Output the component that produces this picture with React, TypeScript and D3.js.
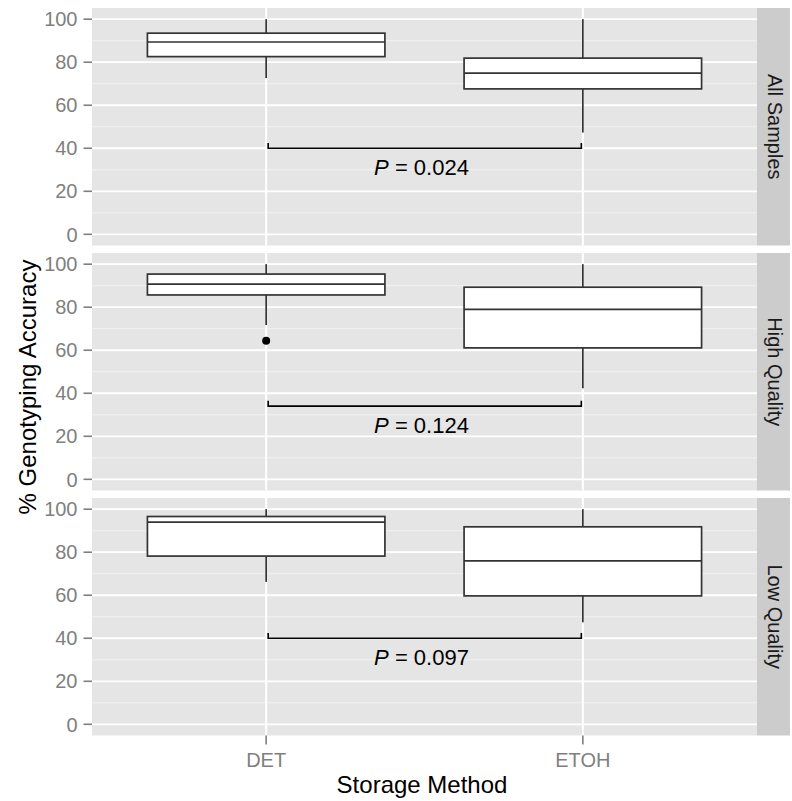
import React from "react";
import * as d3 from "d3";

// Facets, storage methods and box statistics (lower whisker, Q1, median, Q3, upper whisker)
const facets = ["All Samples", "High Quality", "Low Quality"];
const methods = ["DET", "ETOH"];
const detStats = [
  [72.6, 82.6, 89.4, 93.5, 100],
  [71.7, 85.7, 90.7, 95.4, 100],
  [66.2, 78.2, 94.0, 96.6, 100],
];
const etohStats = [
  [47.3, 67.6, 74.9, 81.9, 100],
  [42.3, 61.1, 79.0, 89.3, 100],
  [47.4, 59.7, 76.0, 91.8, 100],
];
// Outliers: facet index, method, value
const outlierFacet = [1];
const outlierMethod = ["DET"];
const outlierValue = [64.4];

// Significance brackets
const pValues = ["0.024", "0.124", "0.097"];
const bracketY = [40, 34, 40];
const bracketTick = 2.5;
const labelDrop = 12.6;

const yTicks = [0, 20, 40, 60, 80, 100];
const yMinor = [10, 30, 50, 70, 90];

const W = 792;
const H = 801;
const panelLeft = 92;
const panelRight = 757;
const stripRight = 790;
const panelTop0 = 8;
const panelH = 237.5;
const panelGap = 7.5;

const FONT = "'Liberation Sans', Arial, Helvetica, sans-serif";
const GREY_TEXT = "#7f7f7f";

export default function App() {
  const x = d3
    .scalePoint<string>()
    .domain(methods)
    .range([panelLeft, panelRight])
    .padding(0.55);
  const step = x.step();
  const boxW = step * 0.75;
  const stats = [detStats, etohStats];

  const panels = facets.map((facet, fi) => {
    const top = panelTop0 + fi * (panelH + panelGap);
    const y = d3.scaleLinear().domain([-5.2, 105.2]).range([top + panelH, top]);
    return (
      <g key={facet}>
        <rect x={panelLeft} y={top} width={panelRight - panelLeft} height={panelH} fill="#e5e5e5" />
        {yMinor.map((v) => (
          <line key={"mn" + v} x1={panelLeft} x2={panelRight} y1={y(v)} y2={y(v)} stroke="#f2f2f2" strokeWidth={1} />
        ))}
        {yTicks.map((v) => (
          <line key={"mj" + v} x1={panelLeft} x2={panelRight} y1={y(v)} y2={y(v)} stroke="#ffffff" strokeWidth={1.8} />
        ))}
        {methods.map((m) => (
          <line key={"vx" + m} x1={x(m)} x2={x(m)} y1={top} y2={top + panelH} stroke="#ffffff" strokeWidth={2} />
        ))}
        {/* y axis ticks and labels */}
        {yTicks.map((v) => (
          <g key={"yt" + v}>
            <line x1={panelLeft - 8.5} x2={panelLeft} y1={y(v)} y2={y(v)} stroke={GREY_TEXT} strokeWidth={1.6} />
            <text
              x={panelLeft - 14.5}
              y={y(v)}
              dy="0.36em"
              textAnchor="end"
              fontFamily={FONT}
              fontSize={20}
              fill={GREY_TEXT}
            >
              {v}
            </text>
          </g>
        ))}
        {/* boxes */}
        {methods.map((m, mi) => {
          const [lo, q1, med, q3, hi] = stats[mi][fi];
          const cx = x(m) as number;
          return (
            <g key={"box" + m}>
              <line x1={cx} x2={cx} y1={y(hi)} y2={y(q3)} stroke="#333333" strokeWidth={1.7} />
              <line x1={cx} x2={cx} y1={y(q1)} y2={y(lo)} stroke="#333333" strokeWidth={1.7} />
              <rect
                x={cx - boxW / 2}
                y={y(q3)}
                width={boxW}
                height={y(q1) - y(q3)}
                fill="#ffffff"
                stroke="#333333"
                strokeWidth={1.7}
              />
              <line x1={cx - boxW / 2} x2={cx + boxW / 2} y1={y(med)} y2={y(med)} stroke="#333333" strokeWidth={1.7} />
            </g>
          );
        })}
        {outlierFacet.map((f, oi) =>
          f === fi ? (
            <circle key={"o" + oi} cx={x(outlierMethod[oi])} cy={y(outlierValue[oi])} r={4} fill="#000000" />
          ) : null
        )}
        {/* significance bracket */}
        <path
          d={`M${(x("DET") as number) + 2},${y(bracketY[fi] + bracketTick)}V${y(bracketY[fi])}H${
            (x("ETOH") as number) - 1.5
          }V${y(bracketY[fi] + bracketTick)}`}
          fill="none"
          stroke="#000000"
          strokeWidth={1.6}
        />
        <text
          x={((x("DET") as number) + (x("ETOH") as number)) / 2 - 3}
          y={y(bracketY[fi] - labelDrop)}
          textAnchor="middle"
          fontFamily={FONT}
          fontSize={22}
          fill="#000000"
        >
          <tspan fontStyle="italic">P</tspan>
          {" = " + pValues[fi]}
        </text>
        {/* facet strip */}
        <rect x={panelRight} y={top} width={stripRight - panelRight} height={panelH} fill="#cccccc" />
        <text
          transform={`translate(${panelRight + 11},${top + panelH / 2}) rotate(90)`}
          textAnchor="middle"
          fontFamily={FONT}
          fontSize={20}
          fill="#1a1a1a"
        >
          {facet}
        </text>
      </g>
    );
  });

  const bottom = panelTop0 + 3 * panelH + 2 * panelGap;

  return (
    <svg
      width={W}
      height={H}
      style={{ position: "absolute", left: 0, top: 0, display: "block", background: "#ffffff" }}
    >
      <rect x={0} y={0} width={W} height={H} fill="#ffffff" />
      {panels}
      {/* x axis */}
      {methods.map((m) => (
        <g key={"xt" + m}>
          <line x1={x(m)} x2={x(m)} y1={bottom} y2={bottom + 9} stroke={GREY_TEXT} strokeWidth={1.6} />
          <text
            x={x(m)}
            y={bottom + 31}
            textAnchor="middle"
            fontFamily={FONT}
            fontSize={20}
            fill={GREY_TEXT}
          >
            {m}
          </text>
        </g>
      ))}
      <text x={422} y={793} textAnchor="middle" fontFamily={FONT} fontSize={24} fill="#000000">
        Storage Method
      </text>
      <text
        transform={`translate(36,387) rotate(-90)`}
        textAnchor="middle"
        fontFamily={FONT}
        fontSize={24}
        fill="#000000"
      >
        % Genotyping Accuracy
      </text>
    </svg>
  );
}
